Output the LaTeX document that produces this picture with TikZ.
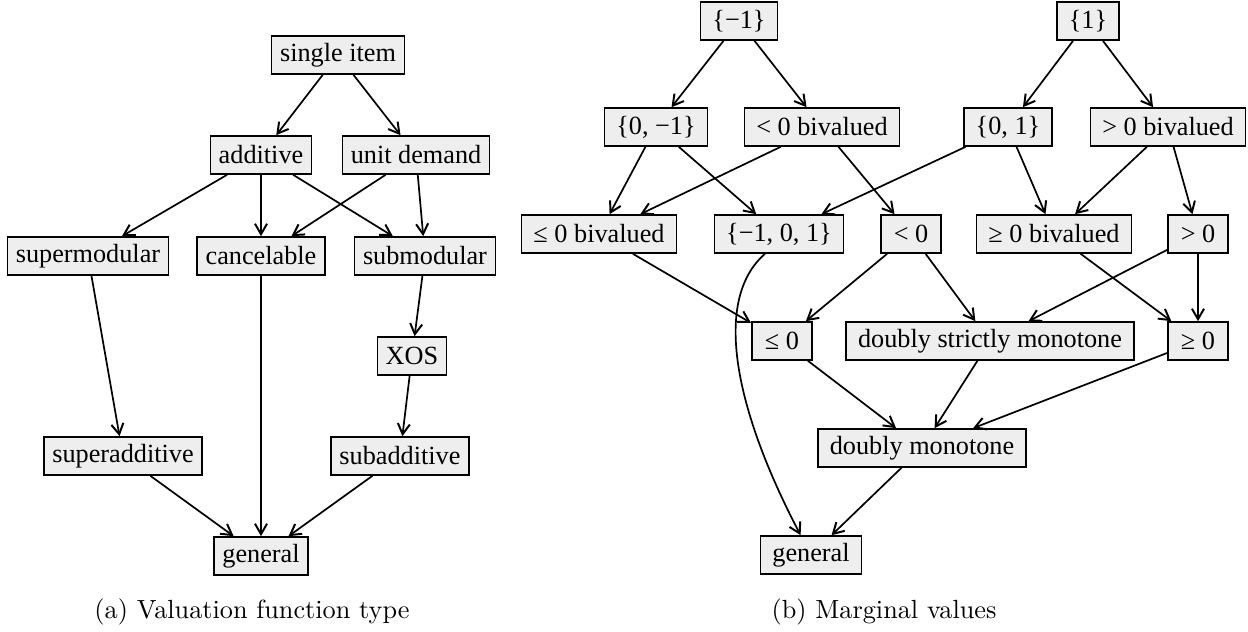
\documentclass[tikz,border=0pt]{standalone}
\usepackage{amsmath}
\usepackage{fontspec}
\newfontfamily\dotfont{Liberation Serif}
\usetikzlibrary{arrows.meta}
\definecolor{boxgray}{RGB}{238,238,238}

\begin{document}
\begin{tikzpicture}[x=0.381pt, y=-0.381pt]
        \tikzstyle{every node}=[draw, fill=boxgray, line width=0.6pt, font=\dotfont, minimum height=14.5pt, minimum width=23pt, inner xsep=4.5pt, inner ysep=1pt]
        \tikzstyle{tight}=[inner xsep=3.2pt]
        \tikzstyle{edge}=[-{Straight Barb[length=4pt,width=4.6pt,line width=0.75pt]}, line width=0.65pt]
        \tikzstyle{caption}=[draw=none, fill=none, font=\normalfont]

        \useasboundingbox (0,0) rectangle (1248,632);

        % (a) valuation function type
        \node[tight] (single)  at (338,55)  {single item};
        \node[tight] (add)     at (261,155) {additive};
        \node[tight] (unit)    at (416,155) {unit demand};
        \node[tight] (supmod)  at (88,256)  {supermodular};
        \node[tight] (cancel)  at (261,256) {cancelable};
        \node[tight] (submod)  at (425,256) {submodular};
        \node[tight] (xos)     at (412,356) {XOS};
        \node[tight] (supadd)  at (123,456) {superadditive};
        \node[tight] (subadd)  at (400,456) {subadditive};
        \node[tight] (genA)    at (261,556) {general};

        \draw[edge] (single) -- (add);
        \draw[edge] (single) -- (unit);
        \draw[edge] (add) -- (supmod);
        \draw[edge] (add) -- (cancel);
        \draw[edge] (add) -- (submod);
        \draw[edge] (unit) -- (cancel);
        \draw[edge] (unit) -- (submod);
        \draw[edge] (supmod) -- (supadd);
        \draw[edge] (cancel) -- (genA);
        \draw[edge] (submod) -- (xos);
        \draw[edge] (xos) -- (subadd);
        \draw[edge] (supadd) -- (genA);
        \draw[edge] (subadd) -- (genA);

        \node[caption] (capA) at (252,612) {(a) Valuation function type};

        % (b) marginal values
        \node (m1)   at (739,21)  {\{−1\}};
        \node (p1)   at (1088,21) {\{1\}};
        \node (zm)   at (656,127) {\{0, −1\}};
        \node (ltb)  at (822,127) {< 0 bivalued};
        \node (zp)   at (1008,127) {\{0, 1\}};
        \node (gtb)  at (1168,127) {> 0 bivalued};
        \node (leb)  at (599,234) {≤ 0 bivalued};
        \node (all)  at (779,234) {\{−1, 0, 1\}};
        \node (lt)   at (911,234) {< 0};
        \node (geb)  at (1054,234) {≥ 0 bivalued};
        \node (gt)   at (1198,234) {> 0};
        \node (le)   at (782,341) {≤ 0};
        \node (dsm)  at (990,341) {doubly strictly monotone};
        \node (ge)   at (1198,341) {≥ 0};
        \node (dm)   at (922,448) {doubly monotone};
        \node (genB) at (811,555) {general};

        \draw[edge] (m1) -- (zm);
        \draw[edge] (m1) -- (ltb);
        \draw[edge] (p1) -- (zp);
        \draw[edge] (p1) -- (gtb);
        \draw[edge] (zm) -- (leb);
        \draw[edge] (zm) -- (all);
        \draw[edge] (ltb) -- (leb);
        \draw[edge] (ltb) -- (lt);
        \draw[edge] (zp) -- (all);
        \draw[edge] (zp) -- (geb);
        \draw[edge] (gtb) -- (geb);
        \draw[edge] (gtb) -- (gt);
        \draw[edge] (leb) -- (le);
        \draw[edge] (all.south) ++(-14,0) .. controls (712,300) and (735,410) .. (genB);
        \draw[edge] (lt) -- (le);
        \draw[edge] (lt) -- (dsm);
        \draw[edge] (geb) -- (ge);
        \draw[edge] (gt) -- (dsm);
        \draw[edge] (gt) -- (ge);
        \draw[edge] (le) -- (dm);
        \draw[edge] (dsm) -- (dm);
        \draw[edge] (ge) -- (dm);
        \draw[edge] (dm) -- (genB);

        \node[caption] (capB) at (884,612) {(b) Marginal values};
\end{tikzpicture}
\end{document}
